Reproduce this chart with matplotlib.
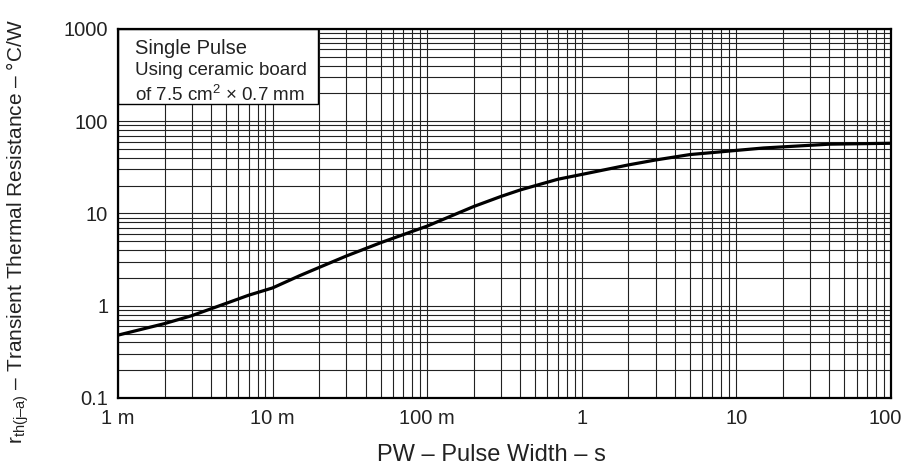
import matplotlib
matplotlib.use("Agg")
import matplotlib.pyplot as plt
from matplotlib.patches import Rectangle
from matplotlib.ticker import FixedLocator, LogLocator, NullFormatter
from matplotlib.transforms import ScaledTranslation

plt.rcParams["font.family"] = ["Liberation Sans", "DejaVu Sans"]
plt.rcParams["mathtext.fontset"] = "custom"
plt.rcParams["mathtext.rm"] = "Liberation Sans"

# pulse width (s) and transient thermal resistance (°C/W)
pulse_width = [0.001, 0.002, 0.003, 0.005, 0.007, 0.01, 0.015, 0.02, 0.03,
               0.05, 0.1, 0.2, 0.3, 0.4, 0.7, 1, 2, 3, 5, 15, 40, 100]
r_th = [0.48, 0.64, 0.78, 1.06, 1.30, 1.56, 2.12, 2.60, 3.46,
        4.82, 7.3, 11.9, 15.3, 18.0, 23.5, 26.5, 33.6, 38.0, 43.5, 51.3,
        56.4, 57.7]

x_ticks = [1e-3, 1e-2, 1e-1, 1, 10, 100]
x_tick_labels = ["1 m", "10 m", "100 m", "1", "10", "100"]
y_ticks = [0.1, 1, 10, 100, 1000]
y_tick_labels = ["0.1", "1", "10", "100", "1000"]

fig = plt.figure(figsize=(9.06, 4.72), dpi=100)
ax = fig.add_axes([0.1302, 0.1568, 0.8532, 0.7818])

ax.set_xscale("log")
ax.set_yscale("log")
ax.set_xlim(1e-3, 100)
ax.set_ylim(0.1, 1000)

ax.xaxis.set_major_locator(FixedLocator(x_ticks))
ax.set_xticklabels(x_tick_labels)
ax.yaxis.set_major_locator(FixedLocator(y_ticks))
ax.set_yticklabels(y_tick_labels)
ax.xaxis.set_minor_locator(LogLocator(base=10, subs=range(2, 10), numticks=50))
ax.yaxis.set_minor_locator(LogLocator(base=10, subs=range(2, 10), numticks=50))
ax.xaxis.set_minor_formatter(NullFormatter())
ax.yaxis.set_minor_formatter(NullFormatter())

ax.grid(which="both", color="#222222", linewidth=0.8)
ax.tick_params(which="both", length=0, labelsize=14.5, colors="#222222")
ax.tick_params(axis="x", pad=8)
ax.tick_params(axis="y", pad=7)
for s in ax.spines.values():
    s.set_linewidth(1.6)
    s.set_zorder(5)

# keep the last x label inside the figure, as in the reference
last = ax.get_xticklabels()[-1]
last.set_transform(last.get_transform()
                   + ScaledTranslation(-4 / 72, 0, fig.dpi_scale_trans))

ax.plot(pulse_width, r_th, color="black", linewidth=2.3, zorder=4)

# note box in the upper-left corner
ax.add_patch(Rectangle((0, 0.797), 0.259, 0.203, transform=ax.transAxes,
                       facecolor="white", edgecolor="black", linewidth=1.0,
                       zorder=3))
ax.text(0.022, 0.972, "Single Pulse", transform=ax.transAxes, fontsize=14.5,
        va="top", ha="left", color="#222222", zorder=4)
ax.text(0.022, 0.910, "Using ceramic board", transform=ax.transAxes,
        fontsize=13.5, va="top", ha="left", color="#222222", zorder=4)
ax.text(0.022, 0.850, "of 7.5 cm$^2$ × 0.7 mm", transform=ax.transAxes,
        fontsize=13.5, va="top", ha="left", color="#222222", zorder=4)

fig.text(0.542, 0.036, "PW – Pulse Width – s", fontsize=17, color="#222222",
         ha="center", va="center")
fig.text(0.02, 0.51,
         r"$\mathregular{r_{th(j–a)}}$ – Transient Thermal Resistance – °C/W",
         rotation=90, va="center", ha="center", fontsize=15,
         color="#222222")

fig.savefig("out.png", dpi=100)
